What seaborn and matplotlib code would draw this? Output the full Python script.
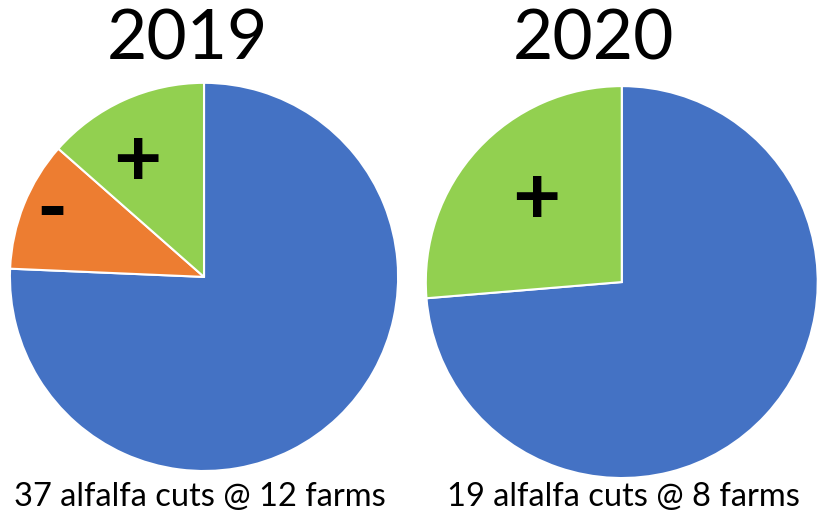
import numpy as np
import matplotlib
matplotlib.use("Agg")
import matplotlib.pyplot as plt
import seaborn as sns

sns.set_theme(style="white")
plt.rcParams["font.family"] = ["Lato", "DejaVu Sans"]
plt.rcParams["text.color"] = "black"

# data
years = ["2019", "2020"]
cuts_2019 = [28, 4, 5]          # neutral, negative, positive
cuts_2020 = [14, 5]             # neutral, positive
signs_2019 = ["", "-", "+"]
signs_2020 = ["", "+"]
footers = ["37 alfalfa cuts @ 12 farms", "19 alfalfa cuts @ 8 farms"]

colors_2019 = ["#4472C4", "#ED7D31", "#92D050"]
colors_2020 = ["#4472C4", "#92D050"]

fig = plt.figure(figsize=(8.23, 5.21), dpi=100)

# axes placed so the pies sit where they do in the reference
ax1 = fig.add_axes([0.0109, 0.094, 0.474, 0.749])
ax2 = fig.add_axes([0.516, 0.0806, 0.479, 0.756])


def draw_pie(ax, values, colors, signs, dists, shifts):
    wedges, texts = ax.pie(values, colors=colors, startangle=90, counterclock=False,
                           labels=signs, labeldistance=1.0,
                           wedgeprops=dict(edgecolor="white", linewidth=1.5),
                           textprops=dict(fontsize=60, fontweight="bold", color="black"))
    for w, t, d, s in zip(wedges, texts, dists, shifts):
        # label sits on the wedge's middle angle, nudged a little
        mid = np.deg2rad((w.theta1 + w.theta2) / 2 + s)
        t.set_position((d * np.cos(mid), d * np.sin(mid)))
        t.set_horizontalalignment("center")
        t.set_verticalalignment("center")
    ax.set_xlim(-1.005, 1.005)
    ax.set_ylim(-1.005, 1.005)
    ax.set_aspect("equal")


draw_pie(ax1, cuts_2019, colors_2019, signs_2019, [0, 0.85, 0.68], [0, -1, 6])
draw_pie(ax2, cuts_2020, colors_2020, signs_2020, [0, 0.6], [0, -1])

fig.text(187 / 823, 1 - 40 / 521, years[0], fontsize=50, ha="center", va="center")
fig.text(594 / 823, 1 - 40 / 521, years[1], fontsize=50, ha="center", va="center")
fig.text(200 / 823, 1 - 497 / 521, footers[0], fontsize=23.5, ha="center", va="center")
fig.text(623 / 823, 1 - 497 / 521, footers[1], fontsize=23.5, ha="center", va="center")

fig.savefig("out.png", dpi=100, facecolor="white")
